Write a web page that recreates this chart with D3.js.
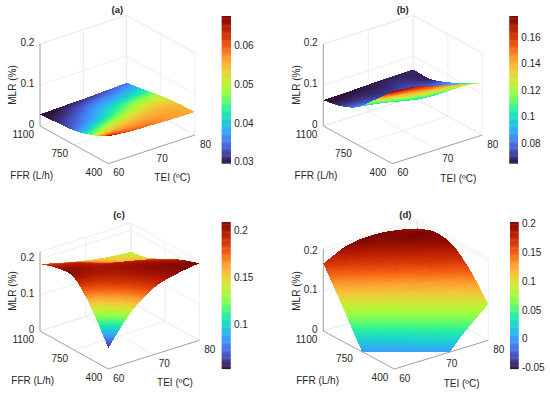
<!DOCTYPE html>
<html><head><meta charset="utf-8">
<style>html,body{margin:0;padding:0;background:#fff}svg{display:block}text{font-family:"Liberation Sans",Arial,sans-serif;fill:#262626;font-size:10px}</style>
<script src="https://cdn.jsdelivr.net/npm/d3@7"></script></head><body><script>
// rows: FFR 1100 → 400, columns: TEI 60 → 80
const teiGrid=[60,65,70,75,80];
const ffrGrid=[1100,925,750,575,400];
const teiTicks=[60,70,80];
const ffrTicks=[400,750,1100];
const zTicks=[0,0.1,0.2];
const zA=[[.0285,.030,.031,.033,.0355],[.031,.034,.038,.040,.042],[.035,.040,.045,.049,.050],[.047,.052,.054,.055,.0545],[.067,.061,.059,.057,.056]];
const zB=[[.063,.064,.066,.067,.068],[.0715,.071,.070,.072,.0675],[.092,.085,.080,.080,.083],[.133,.115,.100,.097,.103],[.176,.170,.155,.141,.126]];
const zC=[[.186,.170,.156,.146,.140],[.201,.195,.176,.160,.150],[.200,.200,.200,.190,.174],[.143,.180,.200,.205,.197],[.058,.138,.185,.204,.214]];
const zD=[[.170,.197,.204,.199,.186],[.094,.143,.178,.198,.201],[.014,.070,.122,.165,.192],[-.060,-.005,.056,.105,.151],[-.130,-.060,-.020,.039,.091]];
const barA=[.03,.04,.05,.06], barB=[.08,.1,.12,.14,.16], barC=[.1,.15,.2], barD=[-.05,0,.05,.1,.15,.2];
const turboStops=["#30123b","#4145ab","#4675ed","#39a2fc","#1bcfd4","#24eca6","#61fc6c","#a4fc3b","#d1e834","#f3c63a","#fe9b2d","#f36315","#d93806","#b11901","#7a0402"];
const turbo=d3.piecewise(d3.interpolateRgb,turboStops);

const panels=[
 {title:"(a)",z:zA,bar:barA,clim:[.0296,.0677],left:[40,126],front:[108.3,163.7],right:[195,135],pz:41,zTop:.2,cb:[221.7,16,9.3,147.3],tp:[117.3,9.3],ffrL:[-8.3,49.7],teiL:[-22.7,42.7],mlr:[-27.7,-41]},
 {title:"(b)",z:zB,bar:barB,clim:[.065,.176],left:[323.3,126],front:[392.3,163.7],right:[482.3,135],pz:41,zTop:.2,cb:[509.3,16,8.7,147.3],tp:[402.7,9.3],ffrL:[-7.3,49.7],teiL:[-24,43.3],mlr:[-27.3,-41]},
 {title:"(c)",z:zC,bar:barC,clim:[.053,.209],left:[40,331],front:[108.3,369],right:[199.3,340.3],pz:36,zTop:.22,cb:[221.7,222,9,146.7],tp:[119,214.7],ffrL:[-7.3,49.3],teiL:[-24.3,42.3],mlr:[-27.7,-40]},
 {title:"(d)",z:zD,bar:barD,clim:[-.052,.203],left:[323.3,331],front:[394.3,369],right:[488.3,340.3],pz:39.7,zTop:.207,cb:[510,222,8.7,146.7],tp:[405.3,214.7],ffrL:[-5.7,49.3],teiL:[-26.7,42.7],mlr:[-27.3,-40]}
];
const svg=d3.select("body").append("svg").attr("width",550).attr("height",394);
svg.append("defs").append("filter").attr("id","soft").attr("filterUnits","userSpaceOnUse")
 .attr("x",0).attr("y",0).attr("width",550).attr("height",394)
 .attr("color-interpolation-filters","sRGB")
 .append("feGaussianBlur").attr("stdDeviation",.5);
const SUB=16;
function cr(p,t){ // Catmull-Rom through a row of read values
 const n=p.length-1,s=Math.min(Math.floor(t*n),n-1),f=t*n-s;
 const a=s>0?p[s-1]:2*p[0]-p[1],b=p[s],c=p[s+1],d=s+2<=n?p[s+2]:2*p[n]-p[n-1];
 return .5*(2*b+(c-a)*f+(2*a-5*b+4*c-d)*f*f+(3*b-a-3*c+d)*f*f*f);
}
panels.forEach(P=>{
 const g=svg.append("g");
 const tei=d3.scaleLinear().domain([60,80]).range([0,1]);
 const ffr=d3.scaleLinear().domain([1100,400]).range([0,1]);
 const zs=d3.scaleLinear().domain([0,.1]).range([0,P.pz]);
 const ex=[P.right[0]-P.front[0],P.right[1]-P.front[1]];
 const ey=[P.front[0]-P.left[0],P.front[1]-P.left[1]];
 const proj=(u,w,z)=>[P.left[0]+u*ex[0]+w*ey[0],P.left[1]+u*ex[1]+w*ey[1]-zs(z)];
 const line=(a,b,c,w)=>g.append("line").attr("x1",a[0]).attr("y1",a[1]).attr("x2",b[0]).attr("y2",b[1]).attr("stroke",c).attr("stroke-width",w);
 const grid="#e8e8e8", ax="#a6a6a6";
 zTicks.forEach(z=>{line(proj(0,0,z),proj(1,0,z),grid,.8);line(proj(1,0,z),proj(1,1,z),grid,.8);});
 line(proj(0,0,P.zTop),proj(1,0,P.zTop),grid,.8);line(proj(1,0,P.zTop),proj(1,1,P.zTop),grid,.8);
 teiTicks.forEach(t=>{const u=tei(t);line(proj(u,0,0),proj(u,1,0),grid,.8);line(proj(u,0,0),proj(u,0,P.zTop),grid,.8);});
 ffrTicks.forEach(f=>{const w=ffr(f);line(proj(0,w,0),proj(1,w,0),grid,.8);line(proj(1,w,0),proj(1,w,P.zTop),grid,.8);});
 line(proj(0,0,0),proj(0,1,0),ax,1);line(proj(0,1,0),proj(1,1,0),ax,1);line(proj(0,0,0),proj(0,0,P.zTop),ax,1);
 const col=d3.scaleLinear().domain(P.clim).range([0,1]).clamp(true);
 const nu=(teiGrid.length-1)*SUB,nw=(ffrGrid.length-1)*SUB;
 const Z=d3.range(nw+1).map(j=>{const wt=j/nw;
  return d3.range(nu+1).map(i=>{const ut=i/nu;
    const row=P.z.map(r=>cr(r,ut));return cr(row,wt);});});
 const sg=g.append("g").attr("filter","url(#soft)").attr("shape-rendering","crispEdges");
 for(let j=0;j<nw;j++)for(let i=nu-1;i>=0;i--){
  let poly=[[i/nu,j/nw,Z[j][i]],[(i+1)/nu,j/nw,Z[j][i+1]],[(i+1)/nu,(j+1)/nw,Z[j+1][i+1]],[i/nu,(j+1)/nw,Z[j+1][i]]];
  const out=[];
  poly.forEach((a,k)=>{const b=poly[(k+1)%4];
   if(a[2]>=0)out.push(a);
   if((a[2]>=0)!==(b[2]>=0)){const t=a[2]/(a[2]-b[2]);out.push([a[0]+t*(b[0]-a[0]),a[1]+t*(b[1]-a[1]),0]);}
  });
  if(out.length<3)continue;
  const c=turbo(col(d3.mean(out,d=>d[2])));
  sg.append("polygon").attr("points",out.map(d=>proj(d[0],d[1],d[2]).map(v=>v.toFixed(2)).join(",")).join(" ")).attr("fill",c);
 }
 zTicks.forEach(z=>{const p=proj(0,0,z);g.append("text").attr("x",p[0]-5.7).attr("y",p[1]-1.5).attr("dy",".35em").attr("text-anchor","end").text(z===0?"0":z);});
 ffrTicks.forEach(f=>{const p=proj(0,ffr(f),0);g.append("text").attr("x",p[0]-6).attr("y",p[1]+8.5).attr("dy",".35em").attr("text-anchor","end").text(f);});
 teiTicks.forEach(t=>{const p=proj(tei(t),1,0);g.append("text").attr("x",p[0]+10.5).attr("y",p[1]+9).attr("dy",".35em").attr("text-anchor","middle").text(t);});
 g.append("text").attr("x",P.left[0]+P.ffrL[0]).attr("y",P.left[1]+P.ffrL[1]).attr("dy",".35em").attr("text-anchor","middle").text("FFR (L/h)");
 g.append("text").attr("x",P.right[0]+P.teiL[0]).attr("y",P.right[1]+P.teiL[1]).attr("dy",".35em").attr("text-anchor","middle").text("TEI (ºC)");
 g.append("text").attr("transform",`translate(${P.left[0]+P.mlr[0]},${P.left[1]+P.mlr[1]}) rotate(-90)`).attr("dy",".35em").attr("text-anchor","middle").text("MLR (%)");
 g.append("text").attr("x",P.tp[0]).attr("y",P.tp[1]).attr("dy",".35em").attr("text-anchor","middle").style("font-weight","bold").style("font-size","9.5px").text(P.title);
 const [cx,cy,cw,ch]=P.cb;
 const cs=d3.scaleLinear().domain(P.clim).range([cy+ch,cy]);
 const N=128;
 d3.range(N).forEach(k=>{g.append("rect").attr("x",cx).attr("width",cw).attr("y",cy+ch*(1-(k+1)/N)).attr("height",ch/N+.4).attr("fill",turbo((k+.5)/N));});
 P.bar.forEach(v=>{g.append("text").attr("x",cx+cw+3.2).attr("y",cs(v)).attr("dy",".35em").text(v);});
});
</script></body></html>
